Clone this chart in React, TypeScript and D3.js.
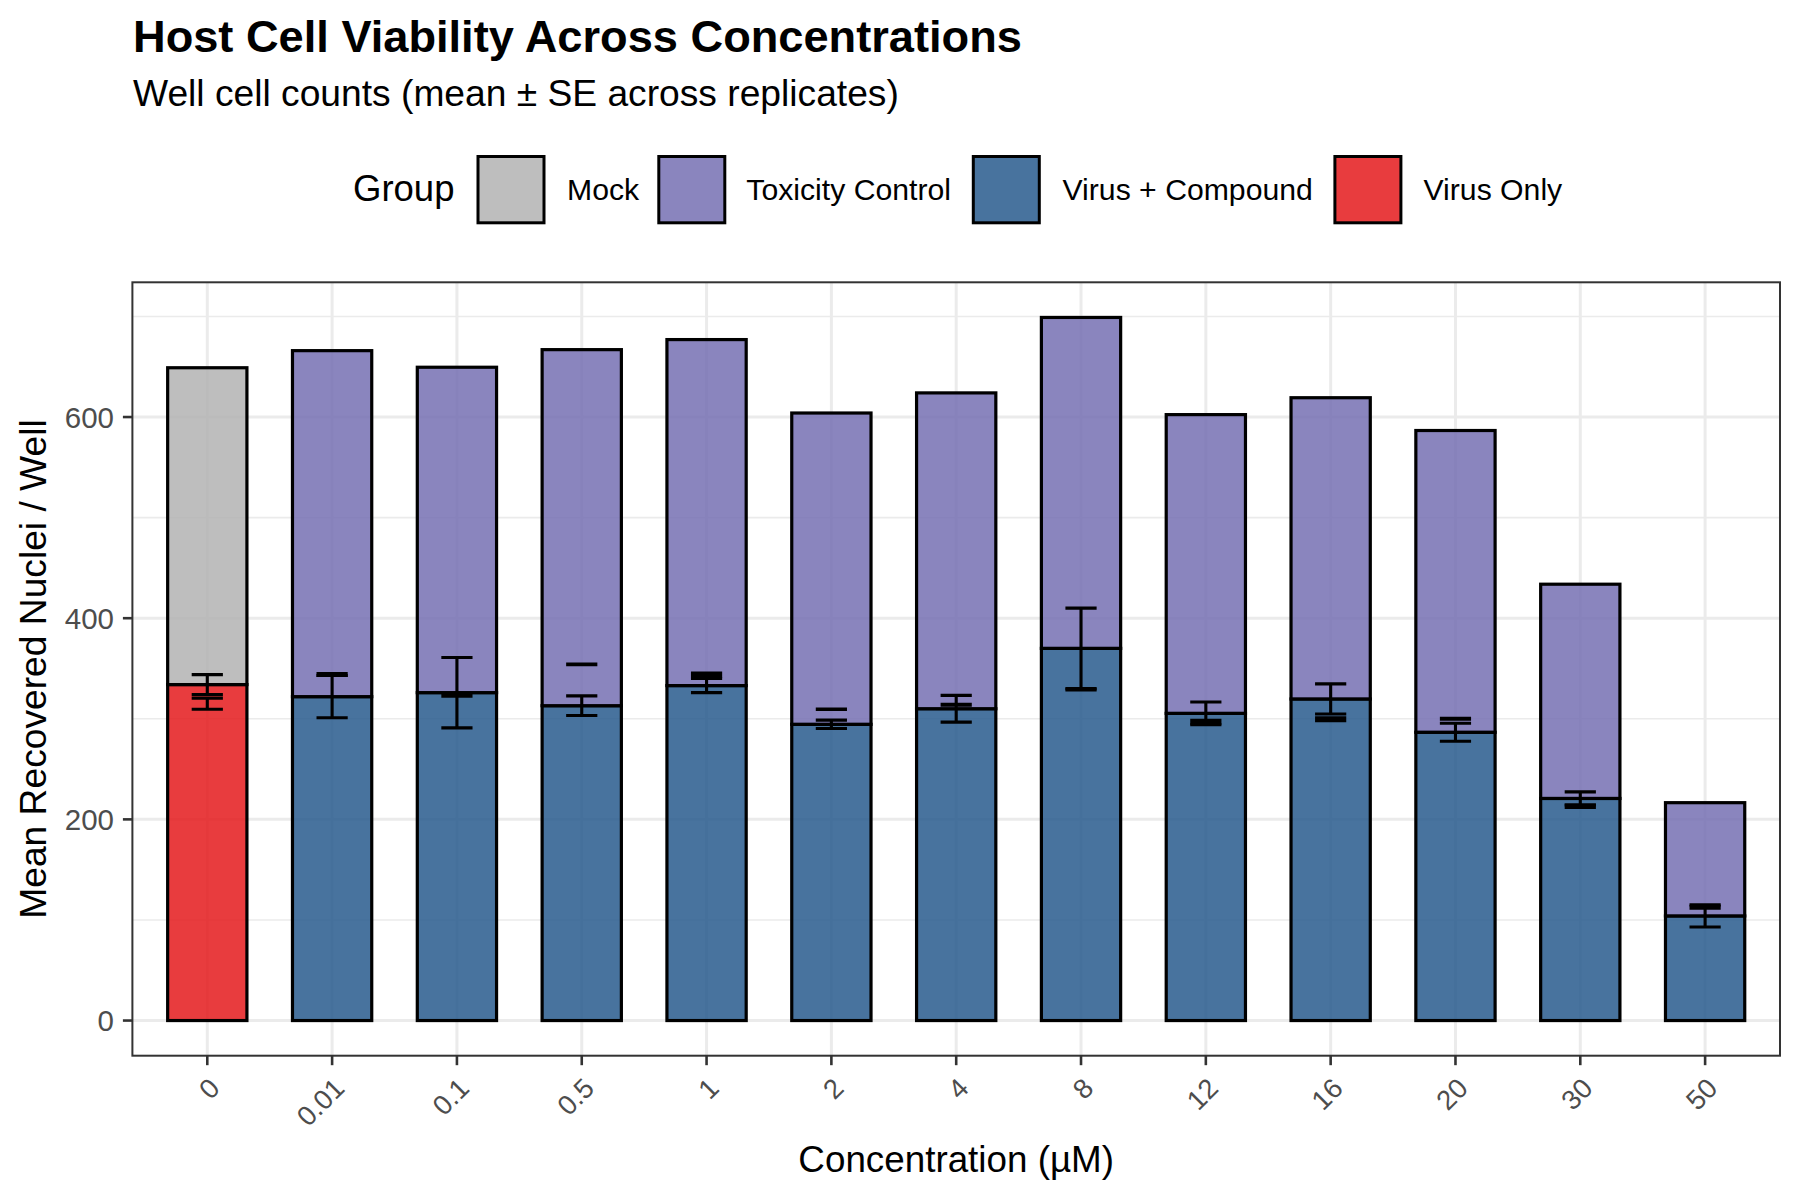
import React, { useRef, useEffect } from 'react';
import * as d3 from 'd3';

// concentrations (µM) on the x axis
const concentrations = ['0', '0.01', '0.1', '0.5', '1', '2', '4', '8', '12', '16', '20', '30', '50'];

const groups = ['Mock', 'Toxicity Control', 'Virus + Compound', 'Virus Only'];
const groupColors = ['#B3B3B3', '#7570B3', '#285A8D', '#E41A1C'];

// bottom segment of each stack
const lowerGroup = ['Virus Only', 'Virus + Compound', 'Virus + Compound', 'Virus + Compound', 'Virus + Compound',
  'Virus + Compound', 'Virus + Compound', 'Virus + Compound', 'Virus + Compound', 'Virus + Compound',
  'Virus + Compound', 'Virus + Compound', 'Virus + Compound'];
const lowerMean = [334, 322, 326, 313, 333, 294.5, 310, 370, 305.4, 319.7, 286.6, 220.8, 104];
const lowerSE = [9.9, 21, 35, 9.8, 7, 4.2, 13.3, 40, 11.3, 15, 9, 6.5, 11];

// top segment of each stack
const upperGroup = ['Mock', 'Toxicity Control', 'Toxicity Control', 'Toxicity Control', 'Toxicity Control',
  'Toxicity Control', 'Toxicity Control', 'Toxicity Control', 'Toxicity Control', 'Toxicity Control',
  'Toxicity Control', 'Toxicity Control', 'Toxicity Control'];
const upperMean = [315, 344, 323.5, 354, 344, 309.5, 314, 329, 297, 299.5, 300, 213, 112.6];
const upperSE = [5.5, 1, 1, 0.3, 1.5, 0.3, 0.5, 0.3, 1.5, 1.5, 0.5, 1.2, 1];

const yTicks = [0, 200, 400, 600];

const FONT = "'Liberation Sans', Arial, Helvetica, sans-serif";

const App: React.FC = () => {
  const svgRef = useRef<SVGSVGElement>(null);

  useEffect(() => {
    if (!svgRef.current) return;
    const svg = d3.select(svgRef.current);
    svg.selectAll('*').remove();

    const W = 1800;
    const H = 1200;
    const panel = { left: 132.4, right: 1780, top: 282.3, bottom: 1055.7 };

    svg.attr('width', W).attr('height', H);
    svg.append('rect').attr('width', W).attr('height', H).attr('fill', '#fff');

    const color = d3.scaleOrdinal<string, string>().domain(groups).range(groupColors);

    const x = d3.scaleBand<string>()
      .domain(concentrations)
      .range([panel.left, panel.right])
      .paddingInner(0)
      .paddingOuter(0.1);
    const step = x.bandwidth();
    const cx = (c: string) => (x(c) as number) + step / 2;

    const tops = concentrations.map((_, i) => lowerMean[i] + upperMean[i]);
    const errTops = concentrations.map((_, i) => Math.max(lowerMean[i] + lowerSE[i], upperMean[i] + upperSE[i]));
    const yMax = Math.max(d3.max(tops) as number, d3.max(errTops) as number);
    const y = d3.scaleLinear()
      .domain([-0.05 * yMax, yMax * 1.05])
      .range([panel.bottom, panel.top]);

    // gridlines
    const grid = svg.append('g');
    const minor = y.ticks(8).filter(t => !yTicks.includes(t));
    grid.selectAll('line.minor').data(minor).enter().append('line')
      .attr('x1', panel.left).attr('x2', panel.right)
      .attr('y1', d => y(d)).attr('y2', d => y(d))
      .attr('stroke', '#EBEBEB').attr('stroke-width', 1.6);
    grid.selectAll('line.major').data(yTicks).enter().append('line')
      .attr('x1', panel.left).attr('x2', panel.right)
      .attr('y1', d => y(d)).attr('y2', d => y(d))
      .attr('stroke', '#EBEBEB').attr('stroke-width', 3);
    grid.selectAll('line.vert').data(concentrations).enter().append('line')
      .attr('x1', d => cx(d)).attr('x2', d => cx(d))
      .attr('y1', panel.top).attr('y2', panel.bottom)
      .attr('stroke', '#EBEBEB').attr('stroke-width', 3);

    // stacked bars
    const barW = step * 0.635;
    const bars = svg.append('g');
    concentrations.forEach((c, i) => {
      const segs = [
        { g: lowerGroup[i], y0: 0, y1: lowerMean[i] },
        { g: upperGroup[i], y0: lowerMean[i], y1: lowerMean[i] + upperMean[i] },
      ];
      segs.forEach(s => {
        bars.append('rect')
          .attr('x', cx(c) - barW / 2)
          .attr('width', barW)
          .attr('y', y(s.y1))
          .attr('height', y(s.y0) - y(s.y1))
          .attr('fill', color(s.g))
          .attr('fill-opacity', 0.85)
          .attr('stroke', '#000')
          .attr('stroke-width', 3.2);
      });
    });

    // error bars (mean ± SE of each group, unstacked)
    const capW = step * 0.25;
    const err = svg.append('g').attr('stroke', '#000').attr('stroke-width', 3.1).attr('fill', 'none');
    concentrations.forEach((c, i) => {
      [[lowerMean[i], lowerSE[i]], [upperMean[i], upperSE[i]]].forEach(([m, se]) => {
        const lo = y(m - se);
        const hi = y(m + se);
        const xc = cx(c);
        err.append('path')
          .attr('d', `M${xc - capW / 2},${hi}H${xc + capW / 2}M${xc},${hi}V${lo}M${xc - capW / 2},${lo}H${xc + capW / 2}`);
      });
    });

    // panel border
    svg.append('rect')
      .attr('x', panel.left).attr('y', panel.top)
      .attr('width', panel.right - panel.left).attr('height', panel.bottom - panel.top)
      .attr('fill', 'none').attr('stroke', '#333333').attr('stroke-width', 2);

    // y axis
    const yAxis = svg.append('g');
    yAxis.selectAll('line').data(yTicks).enter().append('line')
      .attr('x1', panel.left - 9.5).attr('x2', panel.left)
      .attr('y1', d => y(d)).attr('y2', d => y(d))
      .attr('stroke', '#333333').attr('stroke-width', 2.6);
    yAxis.selectAll('text').data(yTicks).enter().append('text')
      .attr('x', 114).attr('y', d => y(d)).attr('dy', '0.36em')
      .attr('text-anchor', 'end')
      .attr('font-family', FONT).attr('font-size', 29.5).attr('fill', '#4D4D4D')
      .text(d => d3.format('d')(d));

    // x axis
    const xAxis = svg.append('g');
    xAxis.selectAll('line').data(concentrations).enter().append('line')
      .attr('x1', d => cx(d)).attr('x2', d => cx(d))
      .attr('y1', panel.bottom).attr('y2', panel.bottom + 9.5)
      .attr('stroke', '#333333').attr('stroke-width', 2.6);
    xAxis.selectAll('text').data(concentrations).enter().append('text')
      .attr('transform', d => `translate(${cx(d)},${1076}) rotate(-45)`)
      .attr('dy', '0.72em')
      .attr('text-anchor', 'end')
      .attr('font-family', FONT).attr('font-size', 27.5).attr('fill', '#4D4D4D')
      .text(d => d);

    // axis titles
    svg.append('text')
      .attr('x', (panel.left + panel.right) / 2).attr('y', 1171.5)
      .attr('text-anchor', 'middle')
      .attr('font-family', FONT).attr('font-size', 36.8).attr('fill', '#000')
      .text('Concentration (µM)');
    svg.append('text')
      .attr('transform', `translate(46,${(panel.top + panel.bottom) / 2}) rotate(-90)`)
      .attr('text-anchor', 'middle')
      .attr('font-family', FONT).attr('font-size', 37.2).attr('fill', '#000')
      .text('Mean Recovered Nuclei / Well');

    // title + subtitle
    svg.append('text')
      .attr('x', 133).attr('y', 51.5)
      .attr('font-family', FONT).attr('font-size', 45.2).attr('font-weight', 'bold').attr('fill', '#000')
      .text('Host Cell Viability Across Concentrations');
    svg.append('text')
      .attr('x', 133).attr('y', 106)
      .attr('font-family', FONT).attr('font-size', 37.2).attr('fill', '#000')
      .text('Well cell counts (mean ± SE across replicates)');

    // legend
    const legend = svg.append('g');
    legend.append('text')
      .attr('x', 353).attr('y', 201)
      .attr('font-family', FONT).attr('font-size', 36.5).attr('fill', '#000')
      .text('Group');
    const keyX = [476.5, 657.3, 971.8, 1333.4];
    const labelX = [567, 746.3, 1062.5, 1423.5];
    groups.forEach((g, i) => {
      legend.append('rect')
        .attr('x', keyX[i] + 1.5).attr('y', 156.5)
        .attr('width', 66).attr('height', 66.3)
        .attr('fill', color(g)).attr('fill-opacity', 0.85)
        .attr('stroke', '#000').attr('stroke-width', 3);
      legend.append('text')
        .attr('x', labelX[i]).attr('y', 200)
        .attr('font-family', FONT).attr('font-size', 30.2).attr('fill', '#000')
        .text(g);
    });

    return () => {
      svg.selectAll('*').remove();
    };
  }, []);

  return (
    <div style={{ position: 'absolute', left: 0, top: 0, width: '1800px', height: '1200px' }}>
      <svg ref={svgRef} />
    </div>
  );
};

export default App;
